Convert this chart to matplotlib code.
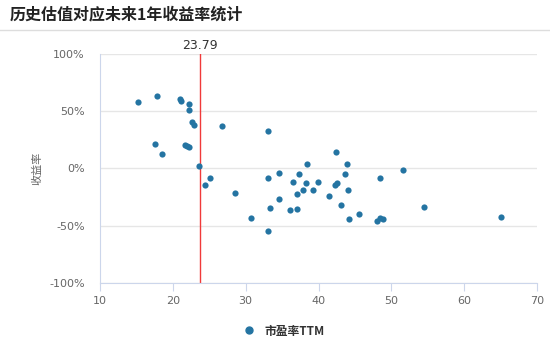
import numpy as np
import matplotlib
matplotlib.use("Agg")
import matplotlib.pyplot as plt
from matplotlib.lines import Line2D

plt.rcParams['font.family'] = ['Noto Sans CJK SC', 'DejaVu Sans']

# PE TTM vs. next-year return (%)
pe_ttm = [15.2, 17.8, 21.05, 21.15, 22.2, 22.2, 22.6, 22.9, 26.7, 33.0,
          17.6, 18.45, 21.65, 21.98, 22.25, 23.55, 24.46, 25.1, 28.5, 30.7,
          33.07, 33.07, 33.3, 34.6, 34.6, 36.15, 36.56, 37.1, 37.1, 37.3,
          37.9, 38.25, 38.4, 39.2, 39.9, 42.4, 43.9, 43.66, 51.6, 48.4,
          42.28, 42.56, 44.1, 41.4, 43.1, 45.5, 44.2, 48.1, 48.4, 48.9,
          54.5, 65.1]
ret_1y = [58.3, 63.2, 60.3, 58.8, 55.9, 51.2, 41.0, 38.4, 36.7, 32.6,
          21.2, 12.3, 20.3, 19.5, 18.6, 2.6, -14.0, -8.2, -21.8, -42.8,
          -8.4, -55.0, -34.6, -3.8, -26.5, -36.5, -11.9, -22.7, -35.4, -4.9,
          -18.6, -13.1, 3.8, -18.6, -11.6, 14.3, 3.5, -4.6, -1.5, -8.1,
          -14.6, -12.5, -18.9, -24.2, -32.0, -39.6, -43.9, -45.7, -42.8, -43.9,
          -33.2, -42.2]
current_pe = 23.79

xticks = [10, 20, 30, 40, 50, 60, 70]
yticks = [-100, -50, 0, 50, 100]

fig = plt.figure(figsize=(5.5, 3.57), dpi=100)
ax = fig.add_axes([100 / 550, 1 - 283 / 357, 437 / 550, 229 / 357])

ax.scatter(pe_ttm, ret_1y, s=20, color='#2474a2', zorder=3, linewidths=0)
ax.axvline(current_pe, color='#f03a3a', lw=1.0, zorder=2)
ax.text(current_pe, 101.5, '%.2f' % current_pe, ha='center', va='bottom',
        fontsize=9, color='#333333', family=['DejaVu Sans'])

ax.set_xlim(10, 70)
ax.set_ylim(-100, 100)
ax.set_xticks(xticks)
ax.set_yticks(yticks)
ax.set_yticklabels(['%d%%' % v for v in yticks])
ax.grid(axis='y', color='#e6e6e6', lw=1)
ax.set_axisbelow(True)

for side in ['top', 'right']:
    ax.spines[side].set_visible(False)
for side in ['left', 'bottom']:
    ax.spines[side].set_color('#ccd6eb')
ax.tick_params(axis='x', colors='#ccd6eb', length=6, labelcolor='#666666',
               labelsize=8)
ax.tick_params(axis='y', length=0, labelcolor='#666666', labelsize=8, pad=11)
for lbl in ax.get_xticklabels() + ax.get_yticklabels():
    lbl.set_family(['DejaVu Sans'])

ax.set_ylabel('收益率', fontsize=8, color='#666666', labelpad=5)

fig.text(10 / 550, 1 - 14 / 357, '历史估值对应未来1年收益率统计', fontsize=11.5,
         fontweight='bold', color='#222222', va='center', ha='left')
fig.add_artist(Line2D([0, 1], [1 - 30 / 357, 1 - 30 / 357], color='#dddddd', lw=1))

handle = Line2D([], [], marker='o', ls='', color='#2474a2', markersize=5)
fig.legend([handle], ['市盈率TTM'], loc='center', bbox_to_anchor=(281 / 550, 1 - 331 / 357),
           frameon=False, prop={'size': 8.5, 'weight': 'bold'}, handletextpad=0.3,
           labelcolor='#333333')

fig.savefig('out.png', dpi=100)
